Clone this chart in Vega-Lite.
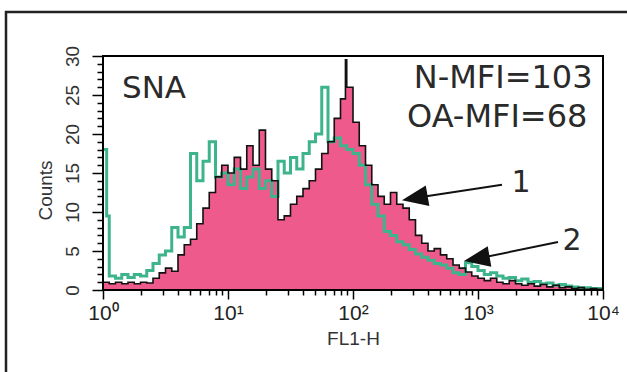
{
  "$schema": "https://vega.github.io/schema/vega-lite/v6.json",
  "width": 500,
  "height": 234,
  "autosize": {"type": "none"},
  "padding": {"left": 103, "top": 56, "right": 24, "bottom": 82},
  "background": "white",
  "view": {"stroke": null},
  "config": {
    "font": "Liberation Sans"
  },
  "datasets": {
    "hist": [
      {"fl": 1, "n": 1.0, "oa": 18.0},
      {"fl": 1.07, "n": 1.0, "oa": 9.5},
      {"fl": 1.122, "n": 0.8, "oa": 1.8},
      {"fl": 1.259, "n": 1.0, "oa": 1.5},
      {"fl": 1.413, "n": 0.8, "oa": 2.0},
      {"fl": 1.585, "n": 1.0, "oa": 1.6},
      {"fl": 1.778, "n": 0.8, "oa": 2.0},
      {"fl": 1.995, "n": 1.0, "oa": 1.8},
      {"fl": 2.239, "n": 0.9, "oa": 2.5},
      {"fl": 2.512, "n": 1.5, "oa": 3.4},
      {"fl": 2.818, "n": 2.2, "oa": 4.5},
      {"fl": 3.162, "n": 2.8, "oa": 5.0},
      {"fl": 3.548, "n": 2.4, "oa": 8.0},
      {"fl": 3.981, "n": 4.5, "oa": 6.8},
      {"fl": 4.467, "n": 5.8, "oa": 8.0},
      {"fl": 5.012, "n": 6.5, "oa": 17.5},
      {"fl": 5.623, "n": 8.5, "oa": 14.0},
      {"fl": 6.31, "n": 10.5, "oa": 16.5},
      {"fl": 7.079, "n": 12.5, "oa": 19.0},
      {"fl": 7.943, "n": 14.5, "oa": 14.5},
      {"fl": 8.913, "n": 16.0, "oa": 15.0},
      {"fl": 10, "n": 15.0, "oa": 13.5},
      {"fl": 11.22, "n": 17.0, "oa": 15.5},
      {"fl": 12.59, "n": 15.5, "oa": 13.0},
      {"fl": 14.13, "n": 18.5, "oa": 14.5},
      {"fl": 15.85, "n": 16.0, "oa": 15.5},
      {"fl": 17.78, "n": 20.5, "oa": 13.0},
      {"fl": 19.95, "n": 15.5, "oa": 14.0},
      {"fl": 22.39, "n": 14.0, "oa": 12.0},
      {"fl": 25.12, "n": 9.0, "oa": 16.5},
      {"fl": 28.18, "n": 9.5, "oa": 15.0},
      {"fl": 31.62, "n": 11.0, "oa": 17.0},
      {"fl": 35.48, "n": 12.0, "oa": 15.5},
      {"fl": 39.81, "n": 13.0, "oa": 17.5},
      {"fl": 44.67, "n": 14.0, "oa": 19.0},
      {"fl": 50.12, "n": 15.5, "oa": 20.0},
      {"fl": 56.23, "n": 17.5, "oa": 26.0},
      {"fl": 63.1, "n": 19.0, "oa": 19.0},
      {"fl": 70.79, "n": 22.0, "oa": 19.5},
      {"fl": 79.43, "n": 24.5, "oa": 18.5},
      {"fl": 87, "n": 29.5, "oa": 18.5},
      {"fl": 89.13, "n": 26.0, "oa": 18.0},
      {"fl": 100, "n": 21.5, "oa": 17.5},
      {"fl": 112.2, "n": 18.5, "oa": 16.0},
      {"fl": 125.9, "n": 16.0, "oa": 13.5},
      {"fl": 141.3, "n": 13.5, "oa": 11.0},
      {"fl": 158.5, "n": 12.0, "oa": 9.5},
      {"fl": 177.8, "n": 11.0, "oa": 7.5},
      {"fl": 199.5, "n": 12.5, "oa": 7.0},
      {"fl": 223.9, "n": 11.0, "oa": 6.2},
      {"fl": 251.2, "n": 10.5, "oa": 5.8},
      {"fl": 281.8, "n": 9.0, "oa": 5.2},
      {"fl": 316.2, "n": 7.0, "oa": 4.6},
      {"fl": 354.8, "n": 6.0, "oa": 4.2},
      {"fl": 398.1, "n": 5.0, "oa": 3.8},
      {"fl": 446.7, "n": 5.3, "oa": 3.4},
      {"fl": 501.2, "n": 4.5, "oa": 3.2},
      {"fl": 562.3, "n": 4.0, "oa": 2.8},
      {"fl": 631, "n": 3.2, "oa": 2.2},
      {"fl": 707.9, "n": 2.8, "oa": 2.0},
      {"fl": 794.3, "n": 2.3, "oa": 3.5},
      {"fl": 891.3, "n": 1.8, "oa": 3.0},
      {"fl": 1000, "n": 1.5, "oa": 2.5},
      {"fl": 1122, "n": 1.2, "oa": 2.0},
      {"fl": 1259, "n": 1.5, "oa": 2.2},
      {"fl": 1413, "n": 1.0, "oa": 1.8},
      {"fl": 1585, "n": 0.8, "oa": 1.5},
      {"fl": 1778, "n": 1.2, "oa": 1.6},
      {"fl": 1995, "n": 0.8, "oa": 1.2},
      {"fl": 2239, "n": 0.6, "oa": 1.4},
      {"fl": 2512, "n": 0.8, "oa": 1.0},
      {"fl": 2818, "n": 0.5, "oa": 1.1},
      {"fl": 3162, "n": 0.7, "oa": 0.8},
      {"fl": 3548, "n": 0.4, "oa": 0.9},
      {"fl": 3981, "n": 0.6, "oa": 0.6},
      {"fl": 4467, "n": 0.3, "oa": 0.7},
      {"fl": 5012, "n": 0.4, "oa": 0.5},
      {"fl": 5623, "n": 0.2, "oa": 0.4},
      {"fl": 6310, "n": 0.3, "oa": 0.3},
      {"fl": 7079, "n": 0.1, "oa": 0.3},
      {"fl": 7943, "n": 0.2, "oa": 0.2},
      {"fl": 8913, "n": 0.1, "oa": 0.2},
      {"fl": 10000, "n": 0, "oa": 0.1}
    ]
  },
  "layer": [
    {
      "data": {"name": "hist"},
      "mark": {"type": "area", "interpolate": "step-after", "color": "#EF5A8C", "clip": true},
      "encoding": {
        "x": {
          "field": "fl", "type": "quantitative",
          "scale": {"type": "log", "domain": [1, 10000], "nice": false},
          "axis": {
            "orient": "bottom",
            "values": [1, 10, 100, 1000, 10000],
            "labelExpr": "datum.value == 1 ? '10⁰' : datum.value == 10 ? '10¹' : datum.value == 100 ? '10²' : datum.value == 1000 ? '10³' : '10⁴'",
            "labelFont": "Liberation Sans", "labelFontSize": 21, "labelColor": "#222",
            "labelPadding": 3, "labelFlush": false, "labelOverlap": false,
            "tickSize": 9, "tickWidth": 1.5, "tickColor": "black",
            "domain": false, "grid": false,
            "title": "FL1-H", "titleFont": "Liberation Sans", "titleFontSize": 19,
            "titleFontWeight": "normal", "titleColor": "#333", "titlePadding": 6
          }
        },
        "y": {
          "field": "n", "type": "quantitative",
          "scale": {"domain": [0, 30], "nice": false},
          "axis": {
            "orient": "left",
            "values": [0, 5, 10, 15, 20, 25, 30],
            "labelAngle": -90, "labelAlign": "center", "labelBaseline": "bottom",
            "labelFont": "Liberation Sans", "labelFontSize": 19, "labelColor": "#333",
            "labelPadding": 10, "labelFlush": false, "labelOverlap": false,
            "tickSize": 11, "tickWidth": 1.5, "tickColor": "black",
            "domain": false, "grid": false,
            "title": "Counts", "titleFont": "Liberation Sans", "titleFontSize": 19,
            "titleFontWeight": "normal", "titleColor": "#333",
            "titleX": -48, "titleY": 134
          }
        }
      }
    },
    {
      "data": {"name": "hist"},
      "mark": {"type": "line", "interpolate": "step-after", "color": "#3DB48C", "strokeWidth": 3, "clip": true},
      "encoding": {
        "x": {
          "field": "fl", "type": "quantitative",
          "scale": {"type": "log", "domain": [1, 10000], "nice": false},
          "axis": {
            "orient": "bottom",
            "values": [2, 3, 4, 5, 6, 7, 8, 9, 20, 30, 40, 50, 60, 70, 80, 90, 200, 300, 400, 500, 600, 700, 800, 900, 2000, 3000, 4000, 5000, 6000, 7000, 8000, 9000],
            "labels": false, "tickSize": 5, "tickWidth": 1.5, "tickColor": "black",
            "domain": false, "grid": false, "title": null
          }
        },
        "y": {
          "field": "oa", "type": "quantitative",
          "scale": {"domain": [0, 30], "nice": false},
          "axis": {
            "orient": "left",
            "values": [1, 2, 3, 4, 6, 7, 8, 9, 11, 12, 13, 14, 16, 17, 18, 19, 21, 22, 23, 24, 26, 27, 28, 29],
            "labels": false, "tickSize": 6, "tickWidth": 1.5, "tickColor": "black",
            "domain": false, "grid": false, "title": null
          }
        }
      }
    },
    {
      "data": {"name": "hist"},
      "mark": {"type": "line", "interpolate": "step-after", "color": "#111", "strokeWidth": 1.6, "clip": true},
      "encoding": {
        "x": {"field": "fl", "type": "quantitative", "scale": {"type": "log", "domain": [1, 10000], "nice": false}, "axis": null},
        "y": {"field": "n", "type": "quantitative", "scale": {"domain": [0, 30], "nice": false}, "axis": null}
      }
    },
    {
      "data": {"values": [{"x1": 1, "x2": 10000, "y1": 0, "y2": 30}]},
      "mark": {"type": "rect", "fill": null, "fillOpacity": 0, "stroke": "black", "strokeWidth": 2},
      "encoding": {
        "x": {"field": "x1", "type": "quantitative", "axis": null},
        "x2": {"field": "x2"},
        "y": {"field": "y1", "type": "quantitative", "axis": null},
        "y2": {"field": "y2"}
      }
    },
    {
      "data": {"values": [{"x1": 0.1675, "x2": 20000, "y1": 35.64, "y2": -12}]},
      "mark": {"type": "rect", "fill": null, "fillOpacity": 0, "stroke": "#222", "strokeWidth": 2.5, "clip": false},
      "encoding": {
        "x": {"field": "x1", "type": "quantitative", "axis": null},
        "x2": {"field": "x2"},
        "y": {"field": "y1", "type": "quantitative", "axis": null},
        "y2": {"field": "y2"}
      }
    },
    {
      "data": {"values": [
        {"x1": 312, "y1": 11.8, "x2": 1556, "y2": 13.5},
        {"x1": 977, "y1": 4.0, "x2": 4365, "y2": 6.15}
      ]},
      "mark": {"type": "rule", "color": "#111", "strokeWidth": 2},
      "encoding": {
        "x": {"field": "x1", "type": "quantitative", "axis": null},
        "y": {"field": "y1", "type": "quantitative", "axis": null},
        "x2": {"field": "x2"},
        "y2": {"field": "y2"}
      }
    },
    {
      "data": {"values": [
        {"x1": 312, "y1": 11.8},
        {"x1": 977, "y1": 4.0}
      ]},
      "mark": {"type": "point", "shape": "M-1,0L1,-0.8L1,0.8Z", "filled": true, "color": "#111", "opacity": 1, "size": 676, "angle": -10},
      "encoding": {
        "x": {"field": "x1", "type": "quantitative", "axis": null},
        "y": {"field": "y1", "type": "quantitative", "axis": null}
      }
    },
    {
      "data": {"values": [{"fx": 1.419, "cy": 24.6, "label": "SNA"}]},
      "mark": {"type": "text", "align": "left", "baseline": "alphabetic", "font": "DejaVu Sans", "fontSize": 31, "color": "#2a2a2a"},
      "encoding": {
        "x": {"field": "fx", "type": "quantitative", "axis": null},
        "y": {"field": "cy", "type": "quantitative", "axis": null},
        "text": {"field": "label"}
      }
    },
    {
      "data": {"values": [
        {"fx": 8250, "cy": 25.9, "label": "N-MFI=103"},
        {"fx": 7500, "cy": 20.9, "label": "OA-MFI=68"}
      ]},
      "mark": {"type": "text", "align": "right", "baseline": "alphabetic", "font": "DejaVu Sans", "fontSize": 32, "color": "#2a2a2a"},
      "encoding": {
        "x": {"field": "fx", "type": "quantitative", "axis": null},
        "y": {"field": "cy", "type": "quantitative", "axis": null},
        "text": {"field": "label"}
      }
    },
    {
      "data": {"values": [
        {"fx": 2208, "cy": 12.6, "label": "1"},
        {"fx": 5649, "cy": 5.1, "label": "2"}
      ]},
      "mark": {"type": "text", "align": "center", "baseline": "alphabetic", "font": "DejaVu Sans", "fontSize": 30, "color": "#2a2a2a"},
      "encoding": {
        "x": {"field": "fx", "type": "quantitative", "axis": null},
        "y": {"field": "cy", "type": "quantitative", "axis": null},
        "text": {"field": "label"}
      }
    }
  ],
  "resolve": {"axis": {"x": "independent", "y": "independent"}}
}
